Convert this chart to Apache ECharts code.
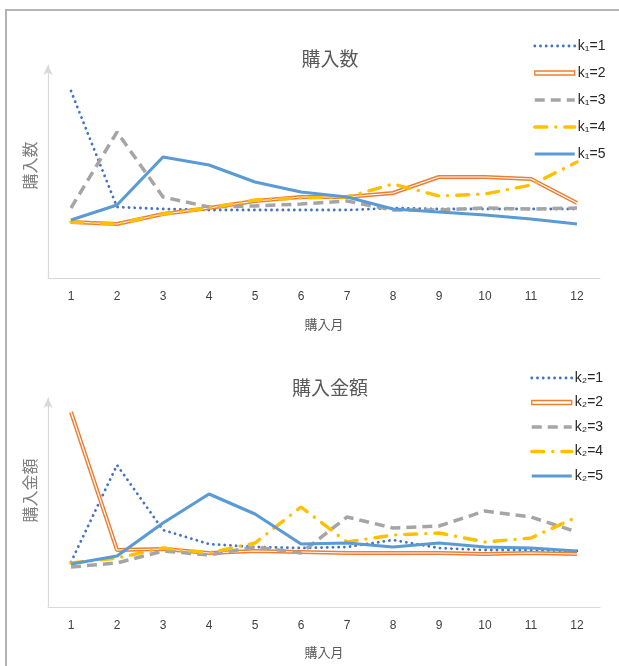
<!DOCTYPE html>
<html>
<head>
<meta charset="utf-8">
<script src="https://cdn.jsdelivr.net/npm/echarts@6/dist/echarts.min.js"></script>
<style>
  html, body { margin: 0; padding: 0; background: #fff; }
  #chart { width: 619px; height: 666px; }
</style>
</head>
<body>
<div id="chart"></div>
<script>
// Months on the horizontal axis
const months = ['1', '2', '3', '4', '5', '6', '7', '8', '9', '10', '11', '12'];

// 購入数 by cluster k1 (relative units)
const qtyK1 = [187, 71, 69, 68, 68, 68, 68, 70, 69, 69, 69, 69];
const qtyK2 = [56, 54, 64, 70, 77, 81, 81, 85, 101, 101, 99, 75];
const qtyK3 = [70, 146, 81, 71, 72, 74, 77, 68, 68, 70, 69, 70];
const qtyK4 = [56, 54, 64, 70, 78, 80, 81, 94, 82, 84, 93, 116];
const qtyK5 = [58, 73, 121, 113, 96, 86, 81, 69, 66, 63, 59, 54];

// 購入金額 by cluster k2 (relative units)
const amtK1 = [45, 142, 77, 63, 60, 59, 60, 67, 59, 57, 57, 56];
const amtK2 = [195, 57, 58, 54, 56, 55, 54, 54, 54, 53, 54, 53];
const amtK3 = [40, 44, 56, 52, 60, 54, 90, 79, 81, 96, 90, 75];
const amtK4 = [44, 49, 59, 54, 64, 100, 65, 72, 74, 65, 69, 90];
const amtK5 = [43, 51, 84, 113, 93, 63, 64, 60, 64, 60, 59, 56];

const namesTop = ['k\u2081=1', 'k\u2081=2', 'k\u2081=3', 'k\u2081=4', 'k\u2081=5'];
const namesBottom = ['k\u2082=1', 'k\u2082=2', 'k\u2082=3', 'k\u2082=4', 'k\u2082=5'];

const C_DOT = '#4472C4', C_ORANGE = '#ED7D31', C_GRAY = '#A5A5A5', C_GOLD = '#FFC000', C_BLUE = '#5B9BD5';
const textGray = '#595959';
const axisGray = '#D9D9D9';
const fontFam = '"Noto Sans CJK JP", "Liberation Sans", sans-serif';

const styles = [
  { color: C_DOT, width: 2.8, type: [0.1, 5.6], cap: 'round' },
  { color: C_ORANGE, width: 4, type: 'solid' },
  { color: C_GRAY, width: 3.5, type: [10, 6] },
  { color: C_GOLD, width: 3.4, type: [12, 9, 0.1, 9], cap: 'round' },
  { color: C_BLUE, width: 3.2, type: 'solid' }
];

function makeSeries(names, datas, axisIdx) {
  const out = [];
  names.forEach((n, i) => {
    out.push({
      name: n, type: 'line', xAxisIndex: axisIdx, yAxisIndex: axisIdx,
      data: datas[i], symbol: 'none', showSymbol: false, smooth: false,
      lineStyle: Object.assign({}, styles[i]),
      itemStyle: { color: styles[i].color },
      z: 2 + i, silent: true
    });
    if (i === 1) {
      // white core gives the double-line look
      out.push({
        name: n + '_core', type: 'line', xAxisIndex: axisIdx, yAxisIndex: axisIdx,
        data: datas[i], symbol: 'none', showSymbol: false,
        lineStyle: { color: '#ffffff', width: 1.2 },
        z: 2 + i, silent: true
      });
    }
  });
  return out;
}

function legendData(names) {
  return names.map((n, i) => {
    if (i === 1) {
      return { name: n, icon: 'rect', itemStyle: { color: '#fff', borderColor: C_ORANGE, borderWidth: 1.3, opacity: 1 } };
    }
    return { name: n, lineStyle: Object.assign({}, styles[i]) };
  });
}

function makeX(idx, nameGap) {
  return {
    type: 'category', gridIndex: idx, data: months, boundaryGap: true,
    name: '購入月', nameLocation: 'middle', nameGap: nameGap,
    nameTextStyle: { color: textGray, fontSize: 13, fontFamily: fontFam },
    axisLine: { lineStyle: { color: axisGray, width: 1 } },
    axisTick: { show: false },
    axisLabel: { color: '#404040', fontSize: 12, margin: 13, fontFamily: '"Liberation Sans", sans-serif' },
    splitLine: { show: false }
  };
}

function makeY(idx, max, name, pad) {
  return {
    type: 'value', gridIndex: idx, min: 0, max: max,
    name: name, nameLocation: 'middle', nameRotate: 90, nameGap: 10,
    nameTextStyle: { color: '#7F7F7F', fontSize: 16, fontFamily: fontFam, padding: pad },
    axisLine: { show: true, lineStyle: { color: axisGray, width: 1.2 }, symbol: ['none', 'arrow'], symbolSize: [7, 10] },
    axisTick: { show: false },
    axisLabel: { show: false },
    splitLine: { show: false }
  };
}

function makeLegend(names, left, top, gap) {
  return {
    data: legendData(names), orient: 'vertical', left: left, top: top, itemGap: gap,
    padding: 0, itemWidth: 40, itemHeight: 4,
    itemStyle: { opacity: 0 },
    textStyle: { color: '#262626', fontSize: 14, fontFamily: '"Liberation Sans", sans-serif', padding: [0, 0, 0, -2] }
  };
}

const chart = echarts.init(document.getElementById('chart'), null, { renderer: 'canvas' });

chart.setOption({
  backgroundColor: '#ffffff',
  animation: false,
  title: [
    { text: '購入数', left: 325, top: 44, textAlign: 'center',
      textStyle: { color: textGray, fontSize: 19, fontWeight: 'normal', fontFamily: fontFam } },
    { text: '購入金額', left: 325, top: 373, textAlign: 'center',
      textStyle: { color: textGray, fontSize: 19, fontWeight: 'normal', fontFamily: fontFam } }
  ],
  legend: [
    makeLegend(namesTop, 533, 39, 13),
    makeLegend(namesBottom, 530, 371, 10.5)
  ],
  grid: [
    { left: 48, right: 19, top: 65, height: 213, outerBoundsMode: 'none', containLabel: false },
    { left: 48, right: 19, top: 398, height: 209, outerBoundsMode: 'none', containLabel: false }
  ],
  xAxis: [makeX(0, 40), makeX(1, 39)],
  yAxis: [makeY(0, 213, '購入数', [0, 0, 0, 12]), makeY(1, 209, '購入金額', [0, 0, 0, 24])],
  series: [
    ...makeSeries(namesTop, [qtyK1, qtyK2, qtyK3, qtyK4, qtyK5], 0),
    ...makeSeries(namesBottom, [amtK1, amtK2, amtK3, amtK4, amtK5], 1)
  ],
  graphic: [
    { type: 'polyline', silent: true, z: 100,
      shape: { points: [[6, 670], [6, 10], [625, 10]] },
      style: { stroke: '#B4B4B4', lineWidth: 2, fill: null } }
  ]
});
</script>
</body>
</html>
